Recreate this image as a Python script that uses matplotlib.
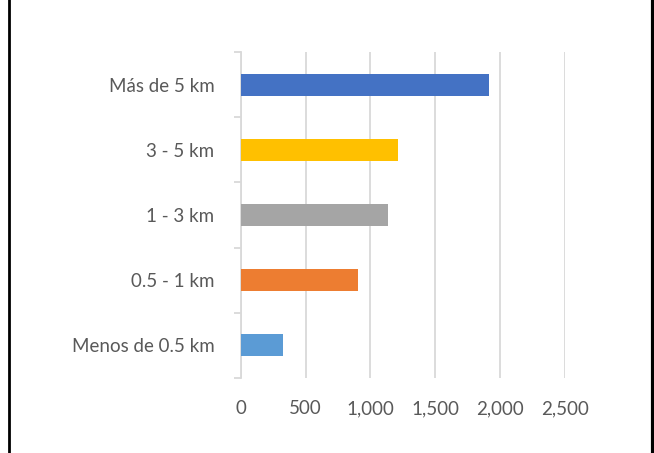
import matplotlib.pyplot as plt
from matplotlib.lines import Line2D

# datos
categorias = ['Menos de 0.5 km', '0.5 - 1 km', '1 - 3 km', '3 - 5 km', 'Más de 5 km']
valores = [330, 905, 1135, 1210, 1915]
colores = ['#5B9BD5', '#ED7D31', '#A5A5A5', '#FFC000', '#4472C4']
ticks_x = [0, 500, 1000, 1500, 2000, 2500]
etiquetas_x = ['0', '500', '1,000', '1,500', '2,000', '2,500']

plt.rcParams['font.family'] = ['Lato', 'DejaVu Sans']

fig = plt.figure(figsize=(6.54, 4.53), dpi=100)
ax = fig.add_axes([0.368, 0.166, 0.496, 0.719])

ax.barh(range(len(categorias)), valores, height=0.34, color=colores, zorder=3)

ax.set_xlim(0, 2500)
ax.set_ylim(-0.5, len(categorias) - 0.5)
ax.set_xticks(ticks_x)
ax.set_xticklabels(etiquetas_x)
ax.set_yticks(range(len(categorias)))
ax.set_yticklabels(categorias)

# grilla vertical
ax.grid(axis='x', color='#D9D9D9', linewidth=1.3, zorder=0)
for s in ['top', 'right', 'bottom']:
    ax.spines[s].set_visible(False)
ax.spines['left'].set_color('#D9D9D9')
ax.spines['left'].set_linewidth(1.3)

# marcas en los limites de categoria
ax.set_yticks([i - 0.5 for i in range(len(categorias) + 1)], minor=True)
ax.tick_params(axis='y', which='minor', length=5, color='#D9D9D9', width=1.3)
ax.tick_params(axis='y', which='major', length=0, pad=19, labelsize=13.5, labelcolor='#595959')
ax.tick_params(axis='x', length=0, pad=16, labelsize=13.5, labelcolor='#595959')

# borde del cuadro
fig.add_artist(Line2D([0.0145, 0.0145], [0, 1], color='black', linewidth=2))
fig.add_artist(Line2D([0.9985, 0.9985], [0, 1], color='black', linewidth=3))

fig.savefig('out.png', dpi=100)
